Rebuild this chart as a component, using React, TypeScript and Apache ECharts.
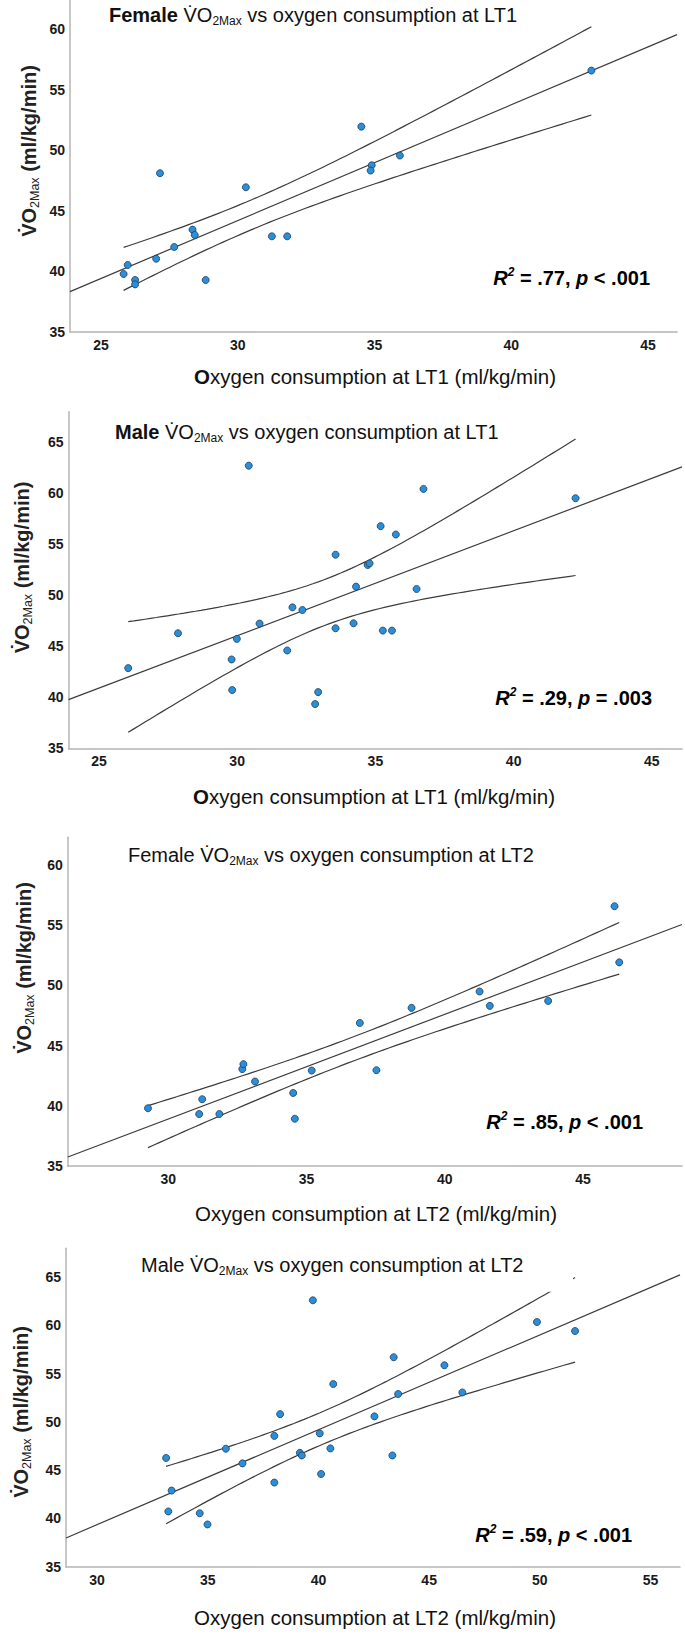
import React, { useEffect, useRef } from 'react';
import * as echarts from 'echarts';

// ---------- Data ----------
// Panel 1: Female, LT1
const F_LT1_X = [25.83, 25.98, 26.25, 26.25, 27.02, 27.16, 27.68, 28.35, 28.43, 28.83, 30.3, 31.25, 31.81, 34.52, 34.9, 34.86, 35.93, 42.93];
const F_LT1_Y = [39.77, 40.51, 39.27, 38.91, 41.03, 48.09, 42.0, 43.43, 42.99, 39.27, 46.93, 42.88, 42.88, 51.94, 48.75, 48.31, 49.55, 56.57];
// Panel 2: Male, LT1
const M_LT1_X = [26.06, 27.86, 29.8, 29.82, 29.99, 30.81, 30.42, 31.81, 32.0, 32.36, 32.82, 32.93, 33.56, 33.56, 34.21, 34.3, 34.72, 34.79, 35.19, 35.27, 35.6, 35.74, 36.49, 36.74, 42.24];
const M_LT1_Y = [42.86, 46.28, 43.71, 40.71, 45.73, 47.23, 62.71, 44.59, 48.82, 48.56, 39.34, 40.51, 53.98, 46.77, 47.26, 50.85, 52.97, 53.13, 56.78, 46.54, 46.54, 55.96, 50.62, 60.43, 59.52];
// Panel 3: Female, LT2
const F_LT2_X = [29.27, 31.12, 31.23, 31.85, 32.68, 32.72, 33.14, 34.52, 34.58, 35.19, 36.93, 37.53, 38.8, 41.26, 41.63, 43.74, 46.14, 46.31];
const F_LT2_Y = [39.81, 39.33, 40.56, 39.33, 43.06, 43.47, 42.03, 41.08, 38.94, 42.94, 46.89, 42.97, 48.14, 49.5, 48.31, 48.72, 56.58, 51.92];
// Panel 4: Male, LT2
const M_LT2_X = [33.12, 33.37, 33.22, 34.64, 34.99, 35.82, 36.57, 38.01, 38.01, 38.27, 39.16, 39.25, 39.75, 40.06, 40.12, 40.54, 40.67, 42.53, 43.34, 43.4, 43.6, 45.69, 46.5, 49.87, 51.59];
const M_LT2_Y = [46.27, 42.89, 40.73, 40.54, 39.38, 47.23, 45.71, 43.72, 48.56, 50.81, 46.8, 46.53, 62.61, 48.82, 44.61, 47.26, 53.93, 50.58, 46.53, 56.71, 52.9, 55.88, 53.06, 60.36, 59.43];

const TITLES_SEX = ['Female', 'Male', 'Female', 'Male'];
const TITLES_LT = ['LT1', 'LT1', 'LT2', 'LT2'];
const STATS_R2 = ['.77', '.29', '.85', '.59'];
const STATS_P = ['< .001', '= .003', '< .001', '< .001'];
const X_MIN = [23.87, 23.9, 26.37, 28.6];
const X_MAX = [46.06, 46.09, 48.58, 56.33];
const Y_MIN = [35, 35, 35, 35];
const Y_MAX = [62.4, 68, 62.3, 68];

const FONT = "'Liberation Sans', Arial, sans-serif";

// layout (pixels)
const GRIDS = [
  { left: 70, top: 0, width: 607, height: 331.7 },
  { left: 68.5, top: 411.7, width: 614.5, height: 336.6 },
  { left: 67.8, top: 837.3, width: 615.2, height: 328.9 },
  { left: 66, top: 1248.3, width: 614, height: 318.4 },
];
const TITLE_POS = [[109, 15], [115, 431.7], [128, 855], [141, 1265]];
const TITLE_BOLD = [true, true, false, false];
const XNAME_POS = [[375, 376.7], [374, 796.7], [376, 1213], [375, 1617]];
const YNAME_POS = [[29, 151], [22, 567.5], [24, 968], [21, 1412]];
const STAT_POS = [[650, 278], [652, 698], [643, 1121.7], [632, 1535]];

function tq975(df: number) {
  const z = 1.959964;
  const g1 = (z ** 3 + z) / 4;
  const g2 = (5 * z ** 5 + 16 * z ** 3 + 3 * z) / 96;
  const g3 = (3 * z ** 7 + 19 * z ** 5 + 17 * z ** 3 - 15 * z) / 384;
  return z + g1 / df + g2 / df ** 2 + g3 / df ** 3;
}

function regress(xs: number[], ys: number[]) {
  const n = xs.length;
  const mx = xs.reduce((a, b) => a + b, 0) / n;
  const my = ys.reduce((a, b) => a + b, 0) / n;
  let sxx = 0, sxy = 0;
  for (let i = 0; i < n; i++) {
    sxx += (xs[i] - mx) ** 2;
    sxy += (xs[i] - mx) * (ys[i] - my);
  }
  const b = sxy / sxx;
  const a = my - b * mx;
  let sse = 0;
  for (let i = 0; i < n; i++) sse += (ys[i] - a - b * xs[i]) ** 2;
  const s = Math.sqrt(sse / (n - 2));
  const t = tq975(n - 2);
  return { a, b, s, t, mx, sxx, n };
}

const fmt = (v: number) => (Math.abs(v - Math.round(v / 5) * 5) < 1e-6 ? String(Math.round(v)) : '');

function buildOption() {
  const XS = [F_LT1_X, M_LT1_X, F_LT2_X, M_LT2_X];
  const YS = [F_LT1_Y, M_LT1_Y, F_LT2_Y, M_LT2_Y];
  const grid: any[] = [];
  const xAxis: any[] = [];
  const yAxis: any[] = [];
  const series: any[] = [];
  const axisLine = { onZero: false, lineStyle: { color: '#b4b4b4', width: 1.5 } };
  const labelStyle = { fontSize: 14, fontWeight: 'bold', color: '#1a1a1a', fontFamily: FONT, formatter: fmt };
  for (let i = 0; i < 4; i++) {
    grid.push({ ...GRIDS[i], containLabel: false });
    xAxis.push({
      gridIndex: i, type: 'value', min: X_MIN[i], max: X_MAX[i], minInterval: 5, maxInterval: 5,
      axisLine, axisTick: { show: false }, splitLine: { show: false },
      axisLabel: { ...labelStyle, margin: 6 },
    });
    yAxis.push({
      gridIndex: i, type: 'value', min: Y_MIN[i], max: Y_MAX[i], minInterval: 5, maxInterval: 5,
      axisLine: { ...axisLine, show: true }, axisTick: { show: false }, splitLine: { show: false },
      axisLabel: { ...labelStyle, margin: 5 },
    });
    const xs = XS[i], ys = YS[i];
    const r = regress(xs, ys);
    const lineStyle = { color: '#3c3c3c', width: 1.2 };
    series.push({
      type: 'line', xAxisIndex: i, yAxisIndex: i, showSymbol: false, symbol: 'none', clip: true,
      lineStyle, silent: true,
      data: [[X_MIN[i], r.a + r.b * X_MIN[i]], [X_MAX[i], r.a + r.b * X_MAX[i]]],
    });
    const lo = Math.min(...xs), hi = Math.max(...xs);
    const upper: number[][] = [], lower: number[][] = [];
    const N = 80;
    for (let k = 0; k <= N; k++) {
      const x = lo + ((hi - lo) * k) / N;
      const yh = r.a + r.b * x;
      const se = r.s * Math.sqrt(1 / r.n + (x - r.mx) ** 2 / r.sxx);
      upper.push([x, yh + r.t * se]);
      lower.push([x, yh - r.t * se]);
    }
    series.push({ type: 'line', xAxisIndex: i, yAxisIndex: i, showSymbol: false, symbol: 'none', lineStyle, data: upper, silent: true });
    series.push({ type: 'line', xAxisIndex: i, yAxisIndex: i, showSymbol: false, symbol: 'none', lineStyle, data: lower, silent: true });
    series.push({
      type: 'scatter', xAxisIndex: i, yAxisIndex: i, symbolSize: 7, z: 5,
      itemStyle: { color: '#2a8fd8', borderColor: '#1b3b60', borderWidth: 0.8, opacity: 1 },
      data: xs.map((x, k) => [x, ys[k]]),
    });
  }
  return { animation: false, backgroundColor: '#fff', grid, xAxis, yAxis, series };
}

function buildGraphic(chart: any) {
  const g: any[] = [];
  // white box behind title of panel 4 (it hides part of the upper CI curve)
  const p = chart.convertToPixel({ gridIndex: 3 }, [51.5, 63.5]);
  if (p && isFinite(p[0])) {
    g.push({ type: 'rect', z: 50, shape: { x: 125, y: 1240, width: p[0] - 125, height: p[1] - 1240 }, style: { fill: '#fff' } });
  }
  for (let i = 0; i < 4; i++) {
    const sexTag = TITLE_BOLD[i] ? 'b' : 'n';
    g.push({
      type: 'text', z: 60, x: TITLE_POS[i][0], y: TITLE_POS[i][1],
      style: {
        text: `{${sexTag}|${TITLES_SEX[i]} }{n|V\u0307O}{s|2Max}{n| vs oxygen consumption at ${TITLES_LT[i]}}`,
        align: 'left', verticalAlign: 'middle', fontFamily: FONT,
        rich: {
          b: { fontSize: 20, fontWeight: 'bold', fill: '#111', fontFamily: FONT, lineHeight: 24 },
          n: { fontSize: 20, fill: '#111', fontFamily: FONT, lineHeight: 24 },
          s: { fontSize: 12, fill: '#111', fontFamily: FONT, lineHeight: 12, verticalAlign: 'bottom' },
        },
      },
    });
    const oTag = i < 2 ? 'ob' : 'x';
    g.push({
      type: 'text', z: 60, x: XNAME_POS[i][0], y: XNAME_POS[i][1],
      style: {
        text: `{${oTag}|O}{x|xygen consumption at ${TITLES_LT[i]} (ml/kg/min)}`,
        align: 'center', verticalAlign: 'middle', fontFamily: FONT,
        rich: {
          ob: { fontSize: 20.5, fontWeight: 'bold', fill: '#111', fontFamily: FONT },
          x: { fontSize: 20.5, fill: '#111', fontFamily: FONT },
        },
      },
    });
    g.push({
      type: 'text', z: 60, x: YNAME_POS[i][0], y: YNAME_POS[i][1], rotation: Math.PI / 2,
      style: {
        text: '{a|V\u0307O}{s|2Max}{a| (ml/kg/min)}',
        align: 'center', verticalAlign: 'middle', fontFamily: FONT,
        rich: {
          a: { fontSize: 20, fontWeight: 'bold', fill: '#222', fontFamily: FONT, lineHeight: 24 },
          s: { fontSize: 12.5, fill: '#222', fontFamily: FONT, lineHeight: 12, verticalAlign: 'bottom' },
        },
      },
    });
    g.push({
      type: 'text', z: 60, x: STAT_POS[i][0], y: STAT_POS[i][1],
      style: {
        text: `{ri|R}{sup|2}{b| = ${STATS_R2[i]}, }{ri|p}{b| ${STATS_P[i]}}`,
        align: 'right', verticalAlign: 'middle', fontFamily: FONT,
        rich: {
          ri: { fontSize: 20, fontWeight: 'bold', fontStyle: 'italic', fill: '#000', fontFamily: FONT, lineHeight: 24 },
          b: { fontSize: 20, fontWeight: 'bold', fill: '#000', fontFamily: FONT, lineHeight: 24 },
          sup: { fontSize: 12, fontWeight: 'bold', fontStyle: 'italic', fill: '#000', fontFamily: FONT, lineHeight: 13, verticalAlign: 'top' },
        },
      },
    });
  }
  return g;
}

export default function App() {
  const ref = useRef<HTMLDivElement>(null);
  useEffect(() => {
    const chart = echarts.init(ref.current!, null, { renderer: 'svg' });
    chart.setOption(buildOption());
    chart.setOption({ graphic: buildGraphic(chart) });
    return () => chart.dispose();
  }, []);
  return (
    <div
      ref={ref}
      style={{ position: 'absolute', left: 0, top: 0, width: 685, height: 1635, background: '#fff' }}
    />
  );
}
